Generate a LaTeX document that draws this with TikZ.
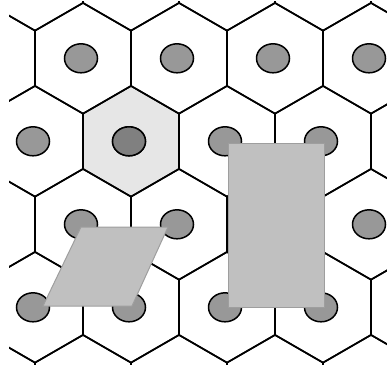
\documentclass[tikz,border=0pt]{standalone}
\usepackage{xcolor}
\usepackage{tikz}
\definecolor{nucgray}{RGB}{152,152,152}
\definecolor{darknuc}{RGB}{128,128,128}
\definecolor{cellshade}{RGB}{230,230,230}
\definecolor{boxgray}{RGB}{192,192,192}
\definecolor{boxedge}{RGB}{158,158,158}

\begin{document}
\begin{tikzpicture}[
  x=1pt,y=-1pt,
  wall/.style={line width=1.6pt,line join=miter},
  nucleus/.style={draw,line width=1.5pt,fill=nucgray},
  darknucleus/.style={nucleus,fill=darknuc},
  region/.style={fill=boxgray,draw=boxedge,line width=1pt}
]
\useasboundingbox (0,0) rectangle (387,369);
\begin{scope}
\clip (9,2) rectangle (392,364);
% shaded cell
\fill[cellshade] (131,141.3) +(0,-55.3) -- +(47.9,-27.65) -- +(47.9,27.65)
  -- +(0,55.3) -- +(-47.9,27.65) -- +(-47.9,-27.65) -- cycle;
% cells and nuclei
\foreach \j in {0,...,5} {
  \pgfmathsetmacro{\cy}{-24.7+83*\j}
  \pgfmathsetmacro{\xo}{mod(\j,2)==1 ? 83 : 35}
  \foreach \i in {-1,...,4} {
    \pgfmathsetmacro{\cx}{\xo+96*\i}
    \draw[wall] (\cx,\cy) +(0,-55.3) -- +(47.9,-27.65) -- +(47.9,27.65)
      -- +(0,55.3) -- +(-47.9,27.65) -- +(-47.9,-27.65) -- cycle;
    \draw[nucleus] (\cx-2,\cy) ellipse [x radius=16.5,y radius=14.5];
  }
}
\draw[darknucleus] (129,141.3) ellipse [x radius=16.5,y radius=14.5];
\end{scope}
% parallelogram and rectangle
\coordinate (pa) at (43,306);
\coordinate (pb) at (132,306);
\coordinate (pc) at (168,227);
\coordinate (pd) at (81,227);
\draw[region] (pa) -- (pb) -- (pc) -- (pd) -- cycle;
\coordinate (ra) at (228,143);
\coordinate (rb) at (324,307);
\draw[region] (ra) rectangle (rb);
\end{tikzpicture}
\end{document}
